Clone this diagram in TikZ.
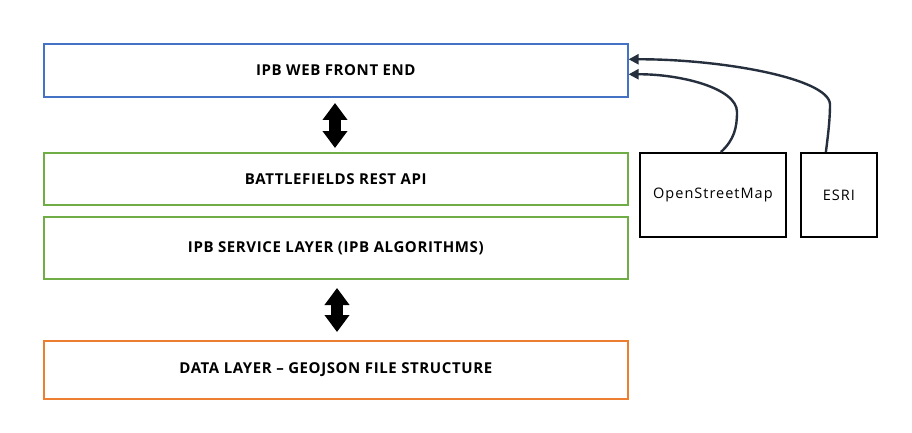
\documentclass[tikz,border=0pt]{standalone}
\usepackage{fontspec}
\setmainfont{Open Sans}[LetterSpace=7,BoldFeatures={LetterSpace=4}]
\usetikzlibrary{arrows.meta}
\definecolor{boxblue}{HTML}{4472C4}
\definecolor{boxgreen}{HTML}{70AD47}
\definecolor{boxorange}{HTML}{ED7D31}
\definecolor{linkcol}{HTML}{262F3D}
\begin{document}
\begin{tikzpicture}[x=1pt,y=-1pt,
  layer/.style={draw=#1,line width=1.6pt,minimum width=584pt,anchor=north west,inner sep=0pt,font=\fontsize{15}{17}\selectfont\bfseries},
  srcbox/.style={draw=black,line width=1.8pt,anchor=north west,inner sep=0pt,minimum height=84pt,font=\fontsize{14.5}{16}\selectfont},
  fat/.style={line width=12pt,{Triangle[length=17pt,width=24pt]}-{Triangle[length=17pt,width=24pt]}},
  link/.style={draw=linkcol,line width=2.4pt,-{Triangle[length=10pt,width=10pt]}}]
\fill[white] (0,0) rectangle (912,433);
\useasboundingbox (0,0) rectangle (912,433);
\node[layer=boxblue,minimum height=53pt] (web) at (43,43) {IPB WEB FRONT END};
\node[layer=boxgreen,minimum height=52pt] (rest) at (43,152) {BATTLEFIELDS REST API};
\node[layer=boxgreen,minimum height=62pt] (svc) at (43,216) {IPB SERVICE LAYER (IPB ALGORITHMS)};
\node[layer=boxorange,minimum height=58pt] (data) at (43,340) {DATA LAYER -- GEOJSON FILE STRUCTURE};
\node[srcbox,minimum width=146pt] (osm) at (639,152) {OpenStreetMap};
\node[srcbox,minimum width=76pt] (esri) at (800,152) {ESRI};
% double arrows
\coordinate (a1t) at (335,103);
\coordinate (a1b) at (335,148);
\coordinate (a2t) at (337,288);
\coordinate (a2b) at (337,332);
\draw[fat] (a1t) -- (a1b);
\draw[fat] (a2t) -- (a2b);
% curved links
\coordinate (osmbend) at (737,112);
\coordinate (esribend) at (830,104);
\draw[link] ([xshift=8pt]osm.north) .. controls (734,140) and (737,128) .. (osmbend)
  .. controls (737,88) and (680,74) .. ([yshift=-4pt]web.east);
\draw[link] ([xshift=-13pt]esri.north) .. controls (828,135) and (830,120) .. (esribend)
  .. controls (828,78) and (720,59) .. ([yshift=11pt]web.east);
\end{tikzpicture}
\end{document}
